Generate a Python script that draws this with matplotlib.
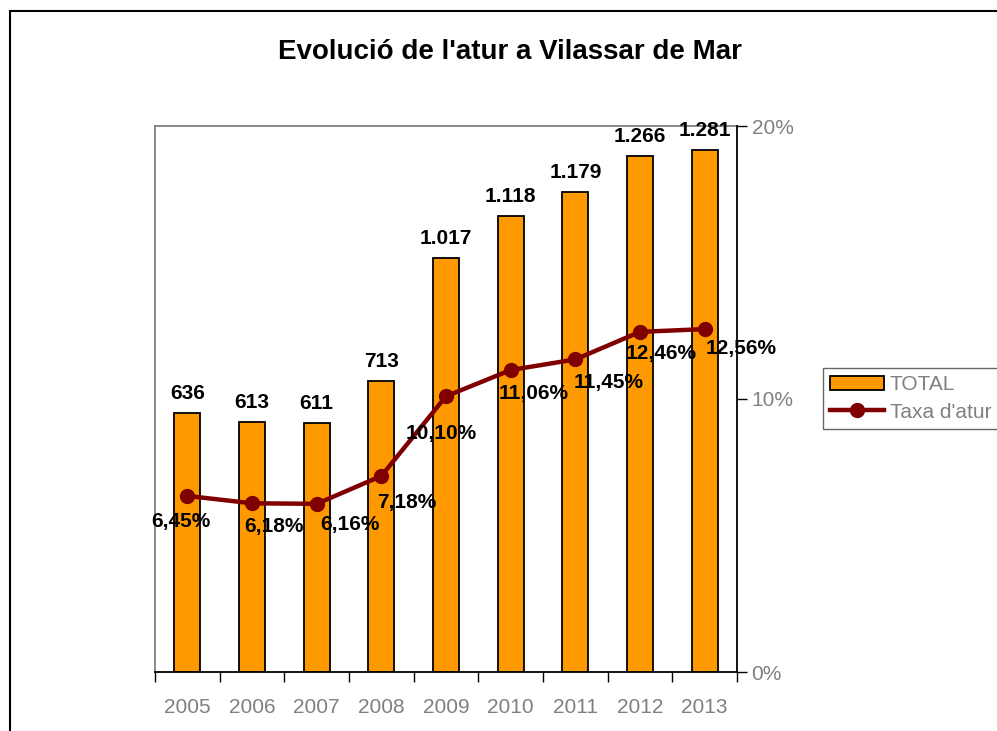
import matplotlib
matplotlib.use("Agg")
import matplotlib.pyplot as plt
from matplotlib.patches import Rectangle

# --- dades ---
anys = ["2005", "2006", "2007", "2008", "2009", "2010", "2011", "2012", "2013"]
total_aturats = [636, 613, 611, 713, 1017, 1118, 1179, 1266, 1281]
taxa_atur = [6.45, 6.18, 6.16, 7.18, 10.10, 11.06, 11.45, 12.46, 12.56]

# desplaçament (px) de les etiquetes de la taxa
despl_etiquetes = [(-6, -26), (22, -23), (33, -21), (25, -27), (-5, -37),
                   (23, -23), (33, -23), (21, -22), (36, -19)]

plt.rcParams['font.family'] = ['Liberation Sans', 'DejaVu Sans']

fig = plt.figure(figsize=(9.97, 7.31), dpi=100)
W, H = 997, 731

# marc exterior del gràfic (retallat a dreta i a baix)
fig.patches.append(Rectangle((10 / W, -0.1), 1.2, 1 - 11 / H + 0.1,
                             transform=fig.transFigure, fill=False,
                             edgecolor='black', linewidth=1.5))

ax = fig.add_axes([155 / W, 1 - 672 / H, (737 - 155) / W, (672 - 126) / H])
ax2 = ax.twinx()

x = list(range(len(anys)))
ax.bar(x, total_aturats, width=0.4, color='#FF9900', edgecolor='black',
       linewidth=1.3, label='TOTAL', zorder=2)
ax.set_ylim(0, 1340)
ax.set_xlim(-0.5, len(anys) - 0.5)
ax.set_yticks([])

for xi, v in zip(x, total_aturats):
    txt = f"{v:,}".replace(",", ".")
    ax.annotate(txt, (xi, v), xytext=(0, 10), textcoords='offset pixels',
                ha='center', va='bottom', fontsize=15, fontweight='bold')

# eix X
ax.set_xticks([i + 0.5 for i in range(-1, len(anys))], minor=False)
ax.set_xticklabels([])
ax.set_xticks(x, minor=True)
ax.set_xticklabels(anys, minor=True, color='#808080', fontsize=15)
ax.tick_params(axis='x', which='major', direction='out', length=7,
               color='black', width=1)
ax.tick_params(axis='x', which='minor', length=0, pad=19)

for s in ['top', 'left']:
    ax.spines[s].set_color('#808080')
    ax.spines[s].set_linewidth(1.3)
ax.spines['bottom'].set_color('black')
ax.spines['bottom'].set_linewidth(1.3)
ax.spines['right'].set_visible(False)

# taxa d'atur
ax2.plot(x, [t / 100 for t in taxa_atur], color='#800000', linewidth=3.2,
         marker='o', markersize=10, label="Taxa d'atur", zorder=3)
ax2.set_ylim(0, 0.20)
ax2.set_yticks([0, 0.10, 0.20])
ax2.set_yticklabels(['0%', '10%', '20%'], color='#808080', fontsize=15)
ax2.tick_params(axis='y', direction='out', length=7, color='black', width=1)
for s in ['top', 'left', 'bottom']:
    ax2.spines[s].set_visible(False)
ax2.spines['right'].set_color('black')
ax2.spines['right'].set_linewidth(1.3)

for xi, t, (dx, dy) in zip(x, taxa_atur, despl_etiquetes):
    txt = f"{t:.2f}%".replace(".", ",")
    ax2.annotate(txt, (xi, t / 100), xytext=(dx, dy), textcoords='offset pixels',
                 ha='center', va='center', fontsize=15, fontweight='bold',
                 zorder=5)

fig.text(510 / W, 1 - 52 / H, "Evolució de l'atur a Vilassar de Mar",
         ha='center', va='center', fontsize=20, fontweight='bold')

h1, l1 = ax.get_legend_handles_labels()
h2, l2 = ax2.get_legend_handles_labels()
leg = fig.legend(h1 + h2, l1 + l2, loc='upper left',
                 bbox_to_anchor=(823 / W, 1 - 368 / H), frameon=True,
                 fancybox=False, edgecolor='#404040', fontsize=15,
                 handlelength=2.6, handletextpad=0.25, borderpad=0.35,
                 labelspacing=0.4, borderaxespad=0)
leg.get_frame().set_linewidth(1.0)
for t in leg.get_texts():
    t.set_color('#808080')

fig.savefig("out.png", dpi=100)
